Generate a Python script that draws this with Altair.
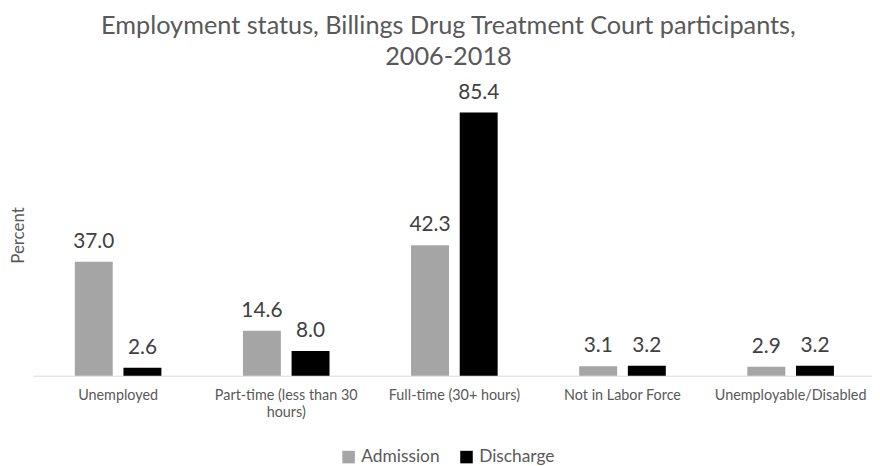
import altair as alt
import pandas as pd

categories = ["Unemployed", "Part-time (less than 30 hours)", "Full-time (30+ hours)",
              "Not in Labor Force", "Unemployable/Disabled"]
admission = [37.0, 14.6, 42.3, 3.1, 2.9]
discharge = [2.6, 8.0, 85.4, 3.2, 3.2]
series = ["Admission", "Discharge"]

rows = []
for c, a, d in zip(categories, admission, discharge):
    rows.append({"Category": c, "Series": "Admission", "Value": a})
    rows.append({"Category": c, "Series": "Discharge", "Value": d})
df = pd.DataFrame(rows)

FONT = "Lato"

x = alt.X("Category:N", sort=categories, title=None,
          scale=alt.Scale(paddingInner=0.485, paddingOuter=0.25),
          axis=alt.Axis(labelAngle=0, ticks=False, domainColor="#d9d9d9", domainWidth=1,
                        labelColor="#595959", labelFont=FONT, labelFontSize=14.5,
                        labelPadding=13, labelLineHeight=17, labelLimit=300,
                        labelExpr="datum.label == 'Part-time (less than 30 hours)' ? ['Part-time (less than 30', 'hours)'] : datum.label"))
xo = alt.XOffset("Series:N", sort=series,
                 scale=alt.Scale(paddingInner=0.22, paddingOuter=0))
y = alt.Y("Value:Q", scale=alt.Scale(domain=[0, 90], nice=False),
          axis=alt.Axis(title="Percent", labels=False, ticks=False, domain=False, grid=False,
                        titleFont=FONT, titleFontSize=17, titleFontWeight="normal",
                        titleColor="#595959", titleAngle=-90, titleX=-14, titleY=138,
                        titleBaseline="middle", titleAlign="center"))

color = alt.Color("Series:N", sort=series,
                  scale=alt.Scale(domain=series, range=["#a5a5a5", "#000000"]),
                  legend=alt.Legend(title=None, orient="none", direction="horizontal",
                                    legendX=310, legendY=353, symbolType="square",
                                    symbolSize=160, symbolStrokeWidth=0,
                                    labelFont=FONT, labelFontSize=17.5, labelColor="#595959",
                                    columnPadding=18, labelOffset=4))

bars = alt.Chart(df).mark_bar().encode(x=x, xOffset=xo, y=y, color=color)
labels = alt.Chart(df).mark_text(baseline="alphabetic", dy=-14, font=FONT, fontSize=21,
                                 color="#404040").encode(
    x=x, xOffset=xo, y=y, text=alt.Text("Value:Q", format=".1f"))

chart = alt.layer(bars, labels).properties(
    width=851, height=280,
    autosize=alt.AutoSizeParams(type="none"),
    padding={"left": 25, "top": 89, "right": -4, "bottom": 88},
    title=alt.TitleParams(
        text=["Employment status, Billings Drug Treatment Court participants,", "2006-2018"],
        font=FONT, fontSize=25.5, fontWeight="normal", color="#595959",
        anchor="middle", dx=-6, offset=11, lineHeight=32),
).configure_view(stroke=None)

chart.save("out.html", embed_options={"renderer": "svg", "actions": False})
